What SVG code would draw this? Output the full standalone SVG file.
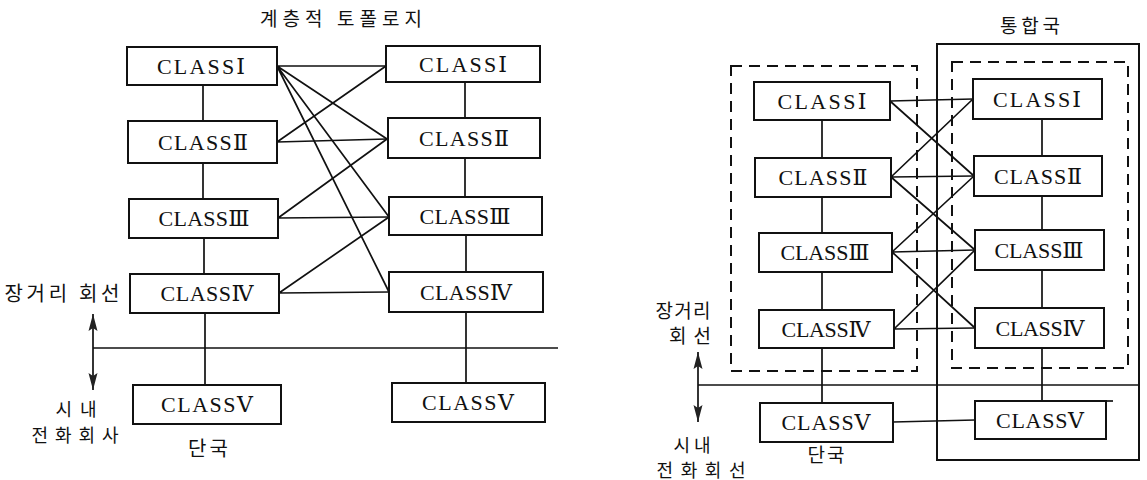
<svg xmlns="http://www.w3.org/2000/svg" width="1147" height="480" viewBox="0 0 1147 480">
<style>
.bx{fill:#fff;stroke:#111;stroke-width:2}
.ln{stroke:#111;stroke-width:1.7;fill:none}
.dash{stroke:#111;stroke-width:2;fill:none;stroke-dasharray:11 7}
.frame{stroke:#111;stroke-width:2;fill:none}
.cls{font-family:"Liberation Serif","DejaVu Serif",serif;font-size:22px;text-anchor:middle;fill:#111}
.ko{font-family:"Noto Sans CJK KR",sans-serif;font-size:19px;text-anchor:middle;fill:#111}
.ko20{font-family:"Noto Sans CJK KR",sans-serif;font-size:20px;text-anchor:middle;fill:#111}
.kos{font-family:"Noto Sans CJK KR",sans-serif;font-size:18px;text-anchor:middle;fill:#111}
</style>
<defs>
<marker id="ah" viewBox="0 0 17 10" refX="17" refY="5" markerWidth="17" markerHeight="10" markerUnits="userSpaceOnUse" orient="auto-start-reverse">
<path d="M0,0.5 L17,5 L0,9.5 L3,5 Z" fill="#222"/>
</marker>
</defs>
<rect width="1147" height="480" fill="#fff"/>

<!-- titles and labels -->
<g id="labels">
<text class="ko" x="341" y="26" textLength="162">계층적 토폴로지</text>
<text class="ko" x="1030" y="33" textLength="60">통합국</text>
<text class="ko20" x="62" y="301" textLength="115">장거리 회선</text>
<text class="kos" x="76" y="416" textLength="41">시내</text>
<text class="kos" x="75" y="442" textLength="87">전화회사</text>
<text class="ko20" x="208" y="456" textLength="40">단국</text>
<text class="ko" x="683" y="318" textLength="55">장거리</text>
<text class="ko" x="690" y="343" textLength="42">회선</text>
<text class="kos" x="692" y="452" textLength="37">시내</text>
<text class="kos" x="701" y="477" textLength="89">전화회선</text>
<text class="ko" x="826" y="462" textLength="37">단국</text>
</g>

<!-- frames of right diagram -->
<g id="frames">
<rect class="frame" x="937" y="44" width="202" height="416"/>
<rect class="dash" x="731" y="66" width="186" height="305"/>
<rect class="dash" x="952" y="62" width="176" height="306"/>
</g>

<g id="connectors">
<!-- left diagram vertical chains -->
<path class="ln" d="M203,85 V121 M203,163 V199 M204,238 V274 M205,313 V385"/>
<path class="ln" d="M465,82 V118 M465,158 V197 M466,235 V272 M466,312 V383"/>
<!-- left diagram trunk line and arrow -->
<path class="ln" d="M93,348 H558"/>
<line class="ln" x1="93" y1="314" x2="93" y2="390" stroke-width="2" marker-start="url(#ah)" marker-end="url(#ah)"/>
<!-- left diagram cross links -->
<path class="ln" d="M277,66 L386,66 M277,66 L387,139 M277,66 L389,217 M277,66 L389,292"/>
<path class="ln" d="M277,142 L386,66 M277,142 L387,139"/>
<path class="ln" d="M278,218 L387,139 M278,218 L389,217"/>
<path class="ln" d="M279,293 L389,217 M279,293 L389,292"/>

<!-- right diagram vertical chains -->
<path class="ln" d="M822,120 V158 M822,197 V233 M822,272 V310 M822,348 V403"/>
<path class="ln" d="M1042,119 V156 M1042,196 V230 M1042,270 V308 M1042,348 V401"/>
<!-- right diagram trunk line and arrow -->
<path class="ln" d="M698,385 H1139"/>
<line class="ln" x1="698" y1="352" x2="698" y2="422" stroke-width="2" marker-start="url(#ah)" marker-end="url(#ah)"/>
<!-- right diagram cross links -->
<path class="ln" d="M890,101 L973,99 M890,101 L974,176"/>
<path class="ln" d="M891,177 L973,99 M891,177 L974,176 M891,177 L975,250"/>
<path class="ln" d="M892,252 L974,176 M892,252 L975,250 M892,252 L975,328"/>
<path class="ln" d="M894,329 L975,250 M894,329 L975,328"/>
<path class="ln" d="M893,422 L975,420"/>
</g>

<!-- left diagram nodes -->
<g id="L1"><rect class="bx" x="127" y="47" width="150" height="38"/><text class="cls" x="201" y="74" textLength="88">CLASSⅠ</text></g>
<g id="L2"><rect class="bx" x="128" y="121" width="149" height="42"/><text class="cls" x="203" y="150" textLength="90">CLASSⅡ</text></g>
<g id="L3"><rect class="bx" x="129" y="199" width="149" height="39"/><text class="cls" x="204" y="226" textLength="91">CLASSⅢ</text></g>
<g id="L4"><rect class="bx" x="130" y="274" width="149" height="39"/><text class="cls" x="207" y="301" textLength="93">CLASSⅣ</text></g>
<g id="L5"><rect class="bx" x="133" y="385" width="148" height="39"/><text class="cls" x="207" y="412" textLength="92">CLASSⅤ</text></g>

<g id="R1"><rect class="bx" x="386" y="46" width="154" height="36"/><text class="cls" x="463" y="72" textLength="88">CLASSⅠ</text></g>
<g id="R2"><rect class="bx" x="388" y="118" width="152" height="40"/><text class="cls" x="464" y="146" textLength="90">CLASSⅡ</text></g>
<g id="R3"><rect class="bx" x="389" y="197" width="153" height="38"/><text class="cls" x="465" y="224" textLength="91">CLASSⅢ</text></g>
<g id="R4"><rect class="bx" x="389" y="272" width="154" height="40"/><text class="cls" x="466" y="300" textLength="92">CLASSⅣ</text></g>
<g id="R5"><rect class="bx" x="392" y="383" width="153" height="39"/><text class="cls" x="468" y="410" textLength="92">CLASSⅤ</text></g>

<!-- right diagram nodes -->
<g id="A1"><rect class="bx" x="754" y="82" width="136" height="38"/><text class="cls" x="822" y="109" textLength="89">CLASSⅠ</text></g>
<g id="A2"><rect class="bx" x="755" y="158" width="136" height="39"/><text class="cls" x="823" y="185" textLength="89">CLASSⅡ</text></g>
<g id="A3"><rect class="bx" x="759" y="233" width="133" height="39"/><text class="cls" x="825" y="260" textLength="89">CLASSⅢ</text></g>
<g id="A4"><rect class="bx" x="759" y="310" width="135" height="38"/><text class="cls" x="826" y="337" textLength="89">CLASSⅣ</text></g>
<g id="A5"><rect class="bx" x="760" y="403" width="133" height="39"/><text class="cls" x="826" y="430" textLength="89">CLASSⅤ</text></g>

<g id="B1"><rect class="bx" x="973" y="79" width="129" height="40"/><text class="cls" x="1037" y="107" textLength="88">CLASSⅠ</text></g>
<g id="B2"><rect class="bx" x="974" y="156" width="128" height="40"/><text class="cls" x="1038" y="184" textLength="88">CLASSⅡ</text></g>
<g id="B3"><rect class="bx" x="975" y="230" width="129" height="40"/><text class="cls" x="1039" y="258" textLength="89">CLASSⅢ</text></g>
<g id="B4"><rect class="bx" x="975" y="308" width="129" height="40"/><text class="cls" x="1040" y="336" textLength="89">CLASSⅣ</text></g>
<g id="B5"><rect class="bx" x="975" y="401" width="131" height="38"/><path class="ln" d="M1106,401 H1113" stroke-width="2"/><text class="cls" x="1040" y="428" textLength="88">CLASSⅤ</text></g>
</svg>
